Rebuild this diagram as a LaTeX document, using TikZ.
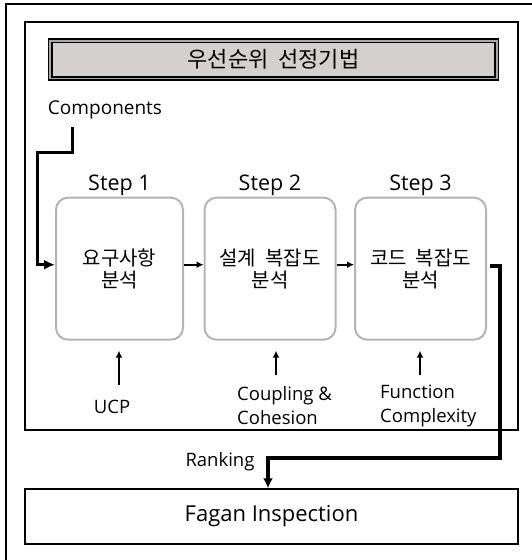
\documentclass[tikz,border=0pt]{standalone}
\usepackage{fontspec}
\setmainfont{Open Sans}
\newfontfamily\kr{Noto Sans CJK KR}
\usetikzlibrary{arrows.meta}
\definecolor{titlefill}{HTML}{D4D0CF}
\definecolor{titlegap}{HTML}{A8A8A8}
\definecolor{boxline}{HTML}{B4B4B4}
\begin{document}
\begin{tikzpicture}[x=1pt,y=-1pt,
  stepbox/.style={draw=boxline, line width=2pt, rounded corners=12pt, minimum height=142pt, inner sep=0pt, align=center, font=\kr\fontsize{20}{22}\selectfont},
  steplbl/.style={inner sep=0pt, font=\fontsize{21.5}{24}\selectfont},
  lbl/.style={inner sep=0pt, align=left, font=\fontsize{18.5}{24}\selectfont},
  thinarr/.style={line width=1.8pt, -{Latex[length=7pt,width=7pt]}},
  thickarr/.style={line width=3pt, -{Latex[length=11pt,width=10pt]}},
  thickerarr/.style={line width=3.8pt, -{Latex[length=10pt,width=10pt]}}]
\useasboundingbox (0,0) rectangle (531,560);
% outer and inner frames
\draw[line width=1.7pt] (6,565) -- (6,4) -- (536,4);
\draw[line width=1.2pt] (25,22) rectangle (518,430);
% title
\node[draw=black, line width=1.4pt, double=titlegap, double distance=1.8pt, fill=titlefill,
      minimum width=446.5pt, minimum height=37.7pt, inner sep=0pt,
      font=\kr\fontsize{22}{24}\selectfont] (title) at (273.5,59.6) {우선순위\hspace{0.45em}선정기법};
% step labels
\node[steplbl] (s1) at (119.5,185) {Step 1};
\node[steplbl] (s2) at (270,185) {Step 2};
\node[steplbl] (s3) at (420.5,185) {Step 3};
% step boxes
\node[stepbox, minimum width=127pt] (b1) at (119.5,268.7) {요구사항\\분석};
\node[stepbox, minimum width=131pt] (b2) at (270,268.7) {설계\hspace{0.45em}복잡도\\분석};
\node[stepbox, minimum width=131pt] (b3) at (420.5,268.7) {코드\hspace{0.45em}복잡도\\분석};
% labels
\node[lbl, font=\fontsize{19}{24}\selectfont] (cmp) at (105,110) {Components};
\node[lbl] (ucp) at (112,407) {UCP};
\node[lbl, anchor=west] (coup) at (237,406) {Coupling \&\\Cohesion};
\node[lbl, anchor=west] (func) at (380,406) {Function\\Complexity};
\node[lbl] (rank) at (220,462) {Ranking};
% Fagan
\node[draw, line width=1.3pt, minimum width=493pt, minimum height=55pt, inner sep=0pt,
      font=\fontsize{22}{24}\selectfont] (fagan) at (271.5,516.5) {Fagan Inspection};
% connectors
\coordinate (c0) at (72,127);
\draw[thickarr] (c0) |- (37,152) |- ([yshift=4pt]b1.west);
\draw[thinarr] ([yshift=4pt]b1.east) -- ([yshift=4pt]b2.west);
\draw[thinarr] ([yshift=4pt]b2.east) -- ([yshift=4pt]b3.west);
\draw[thickerarr] ([yshift=2.7pt,xshift=3pt]b3.east) -| (500,458) -| (268,0 |- fagan.north);
\coordinate (u1) at (119,385);
\coordinate (u2) at (276,375);
\coordinate (u3) at (420,375);
\draw[thinarr, shorten >=10pt] (u1) -- (u1 |- b1.south);
\draw[thinarr, shorten >=10pt] (u2) -- (u2 |- b2.south);
\draw[thinarr, shorten >=10pt] (u3) -- (u3 |- b3.south);
\end{tikzpicture}
\end{document}
